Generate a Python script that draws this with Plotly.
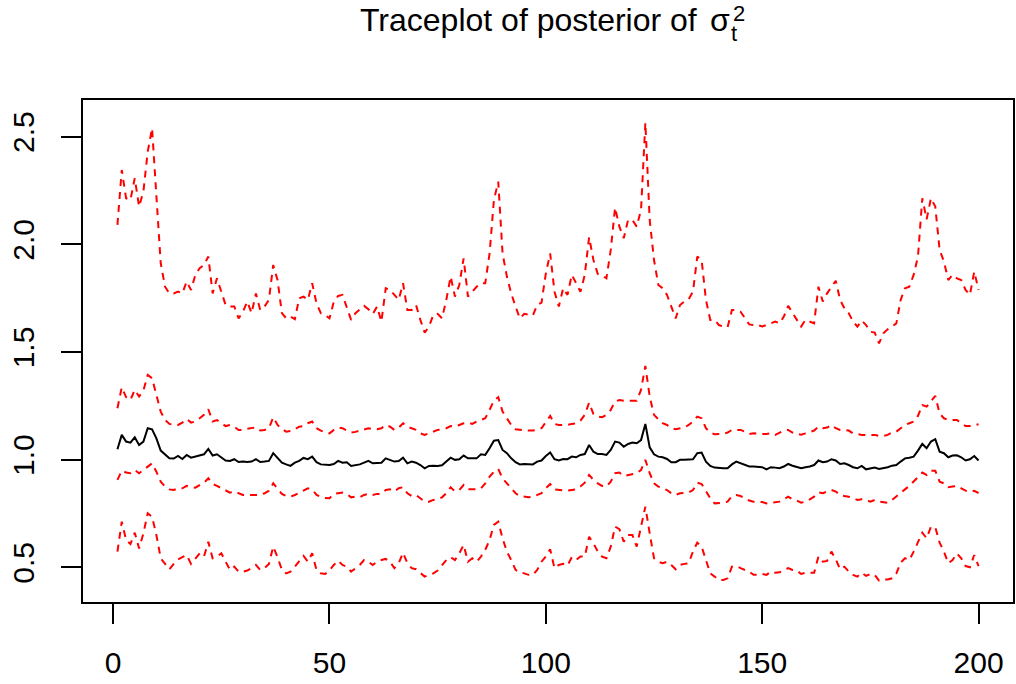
import plotly.graph_objects as go

iterations = list(range(1, 201))

upper_outer = [
2.090,2.345,2.214,2.206,2.307,2.175,2.245,2.430,2.539,2.237,
1.912,1.803,1.772,1.772,1.780,1.772,1.827,1.788,1.858,1.889,
1.904,1.943,1.772,1.842,1.780,1.718,1.711,1.711,1.656,1.687,
1.734,1.680,1.772,1.695,1.711,1.742,1.904,1.834,1.680,1.656,
1.664,1.652,1.749,1.757,1.742,1.819,1.726,1.680,1.672,1.656,
1.734,1.760,1.765,1.711,1.649,1.680,1.695,1.714,1.698,1.677,
1.711,1.641,1.796,1.788,1.765,1.742,1.819,1.695,1.695,1.718,
1.649,1.590,1.618,1.672,1.677,1.656,1.742,1.850,1.757,1.811,
1.935,1.757,1.780,1.803,1.819,1.819,1.958,2.206,2.291,1.958,
1.850,1.772,1.711,1.656,1.677,1.672,1.669,1.718,1.729,1.865,
1.958,1.780,1.711,1.796,1.765,1.858,1.819,1.780,1.858,2.033,
1.927,1.862,1.855,1.842,1.974,2.170,2.082,2.028,2.113,2.113,
2.082,2.160,2.565,2.113,1.927,1.811,1.796,1.765,1.711,1.656,
1.718,1.734,1.745,1.780,1.943,1.927,1.742,1.649,1.649,1.625,
1.618,1.615,1.695,1.695,1.687,1.656,1.628,1.625,1.625,1.618,
1.625,1.633,1.641,1.633,1.664,1.714,1.680,1.646,1.618,1.649,
1.641,1.633,1.803,1.734,1.772,1.803,1.831,1.742,1.703,1.680,
1.641,1.618,1.646,1.625,1.594,1.590,1.540,1.587,1.605,1.618,
1.633,1.742,1.796,1.803,1.858,1.943,2.214,2.116,2.214,2.175,
1.974,1.920,1.834,1.858,1.842,1.834,1.788,1.765,1.873,1.788]

upper_inner = [
1.239,1.336,1.290,1.277,1.324,1.293,1.321,1.393,1.378,1.293,
1.223,1.184,1.166,1.161,1.161,1.172,1.189,1.172,1.177,1.192,
1.208,1.234,1.177,1.184,1.169,1.156,1.161,1.153,1.138,1.138,
1.143,1.146,1.150,1.135,1.138,1.146,1.197,1.161,1.143,1.130,
1.133,1.141,1.153,1.156,1.169,1.177,1.146,1.135,1.126,1.122,
1.138,1.149,1.146,1.135,1.126,1.129,1.135,1.143,1.146,1.141,
1.141,1.146,1.161,1.153,1.138,1.149,1.169,1.153,1.146,1.138,
1.122,1.115,1.122,1.130,1.138,1.141,1.146,1.156,1.153,1.161,
1.169,1.172,1.166,1.177,1.184,1.192,1.231,1.274,1.290,1.223,
1.192,1.161,1.141,1.138,1.135,1.135,1.135,1.138,1.146,1.177,
1.203,1.166,1.161,1.161,1.161,1.166,1.169,1.181,1.208,1.265,
1.212,1.200,1.197,1.208,1.231,1.270,1.277,1.274,1.274,1.277,
1.274,1.324,1.435,1.293,1.208,1.187,1.169,1.161,1.146,1.141,
1.146,1.149,1.161,1.177,1.200,1.192,1.146,1.126,1.118,1.118,
1.119,1.126,1.138,1.138,1.138,1.130,1.119,1.122,1.119,1.119,
1.119,1.122,1.115,1.126,1.135,1.138,1.126,1.119,1.116,1.122,
1.130,1.135,1.153,1.146,1.149,1.161,1.146,1.138,1.138,1.135,
1.122,1.118,1.115,1.115,1.115,1.115,1.110,1.110,1.115,1.126,
1.130,1.146,1.161,1.169,1.177,1.203,1.254,1.246,1.274,1.296,
1.215,1.192,1.184,1.184,1.184,1.169,1.156,1.156,1.161,1.164]

median = [
1.048,1.115,1.084,1.079,1.104,1.068,1.084,1.146,1.141,1.099,
1.042,1.025,1.006,1.005,1.017,1.003,1.022,1.009,1.014,1.022,
1.025,1.050,1.019,1.025,1.009,0.996,0.994,1.002,0.989,0.991,
0.989,0.991,1.002,0.989,0.991,0.994,1.030,1.006,0.986,0.978,
0.971,0.986,0.994,1.008,1.002,1.014,0.988,0.978,0.975,0.975,
0.980,0.994,0.986,0.988,0.971,0.974,0.978,0.986,0.994,0.983,
0.986,0.986,1.006,0.999,0.991,0.994,1.009,0.983,0.991,0.986,
0.975,0.960,0.971,0.972,0.971,0.974,0.991,1.009,0.999,1.002,
1.019,1.006,1.006,1.006,1.025,1.022,1.053,1.088,1.091,1.045,
1.030,1.006,0.988,0.978,0.980,0.980,0.978,0.991,0.996,1.017,
1.033,1.002,0.996,1.003,1.002,1.014,1.011,1.022,1.026,1.068,
1.037,1.026,1.026,1.022,1.045,1.084,1.079,1.060,1.073,1.079,
1.076,1.091,1.166,1.057,1.025,1.014,1.011,1.003,0.988,0.988,
0.999,0.999,0.999,1.002,1.030,1.033,0.991,0.971,0.963,0.960,
0.960,0.960,0.978,0.991,0.983,0.975,0.968,0.968,0.968,0.965,
0.955,0.965,0.963,0.960,0.968,0.980,0.972,0.965,0.960,0.965,
0.968,0.975,0.996,0.988,0.991,1.002,0.996,0.980,0.983,0.975,
0.965,0.960,0.971,0.955,0.960,0.963,0.957,0.960,0.965,0.972,
0.975,0.991,1.006,1.009,1.014,1.042,1.073,1.053,1.084,1.095,
1.037,1.030,1.011,1.019,1.020,1.011,0.996,1.002,1.017,0.996]

lower_inner = [
0.906,0.949,0.940,0.937,0.952,0.937,0.952,0.968,0.983,0.944,
0.898,0.875,0.862,0.859,0.867,0.867,0.878,0.872,0.870,0.882,
0.893,0.913,0.887,0.878,0.867,0.856,0.847,0.852,0.844,0.836,
0.836,0.836,0.836,0.836,0.844,0.856,0.890,0.867,0.841,0.831,
0.828,0.836,0.847,0.856,0.867,0.862,0.836,0.828,0.822,0.821,
0.841,0.844,0.847,0.841,0.825,0.828,0.825,0.836,0.841,0.836,
0.841,0.841,0.859,0.862,0.852,0.867,0.872,0.844,0.831,0.836,
0.821,0.805,0.805,0.813,0.816,0.825,0.844,0.872,0.852,0.859,
0.882,0.862,0.862,0.862,0.867,0.890,0.921,0.944,0.957,0.913,
0.890,0.867,0.844,0.831,0.828,0.825,0.828,0.836,0.844,0.867,
0.887,0.862,0.859,0.856,0.856,0.859,0.862,0.875,0.893,0.929,
0.906,0.890,0.878,0.875,0.898,0.937,0.940,0.924,0.929,0.934,
0.937,0.952,0.999,0.937,0.890,0.875,0.867,0.859,0.844,0.836,
0.844,0.844,0.847,0.859,0.893,0.887,0.852,0.821,0.797,0.797,
0.800,0.805,0.831,0.836,0.831,0.821,0.810,0.805,0.805,0.803,
0.797,0.800,0.800,0.805,0.816,0.828,0.816,0.810,0.800,0.805,
0.816,0.828,0.848,0.844,0.852,0.859,0.852,0.836,0.831,0.828,
0.821,0.813,0.816,0.813,0.805,0.813,0.805,0.802,0.800,0.813,
0.828,0.844,0.862,0.878,0.898,0.921,0.940,0.929,0.949,0.949,
0.898,0.890,0.872,0.875,0.878,0.867,0.856,0.852,0.855,0.844]

lower_outer = [
0.573,0.712,0.627,0.608,0.661,0.588,0.658,0.751,0.735,0.650,
0.542,0.519,0.491,0.516,0.537,0.547,0.557,0.516,0.542,0.565,
0.550,0.619,0.542,0.550,0.565,0.526,0.488,0.503,0.480,0.480,
0.485,0.496,0.511,0.488,0.496,0.516,0.596,0.547,0.488,0.472,
0.480,0.503,0.526,0.553,0.526,0.565,0.488,0.472,0.469,0.485,
0.511,0.531,0.511,0.503,0.480,0.496,0.511,0.534,0.526,0.511,
0.526,0.534,0.539,0.526,0.496,0.519,0.568,0.519,0.496,0.491,
0.472,0.457,0.465,0.472,0.485,0.511,0.534,0.547,0.534,0.565,
0.604,0.526,0.542,0.526,0.550,0.581,0.627,0.697,0.712,0.635,
0.573,0.534,0.488,0.475,0.472,0.465,0.465,0.488,0.526,0.550,
0.584,0.496,0.511,0.516,0.508,0.547,0.534,0.550,0.550,0.642,
0.611,0.573,0.550,0.542,0.596,0.689,0.677,0.619,0.650,0.650,
0.596,0.689,0.782,0.658,0.542,0.526,0.519,0.526,0.511,0.491,
0.511,0.516,0.519,0.573,0.615,0.596,0.534,0.472,0.457,0.441,
0.441,0.449,0.503,0.506,0.496,0.488,0.480,0.465,0.465,0.469,
0.465,0.480,0.475,0.477,0.488,0.496,0.488,0.485,0.469,0.475,
0.475,0.475,0.550,0.526,0.530,0.573,0.537,0.491,0.503,0.480,
0.465,0.457,0.475,0.460,0.469,0.465,0.438,0.444,0.444,0.449,
0.472,0.522,0.542,0.534,0.573,0.619,0.661,0.635,0.689,0.686,
0.615,0.573,0.519,0.534,0.565,0.542,0.506,0.500,0.557,0.506]

x_ticks = [0, 50, 100, 150, 200]
y_ticks = [0.5, 1.0, 1.5, 2.0, 2.5]
y_tick_labels = ["0.5", "1.0", "1.5", "2.0", "2.5"]

FONT = "Liberation Sans, Arial, Helvetica, sans-serif"
RED_DASH = dict(color="#FF0000", width=2, dash="7px,6px")

fig = go.Figure()
for series in [upper_outer, upper_inner, lower_inner, lower_outer]:
    fig.add_trace(go.Scatter(x=iterations, y=series, mode="lines",
                             line=RED_DASH, showlegend=False, hoverinfo="skip"))
fig.add_trace(go.Scatter(x=iterations, y=median, mode="lines",
                         line=dict(color="black", width=2), showlegend=False,
                         hoverinfo="skip"))

axis_common = dict(showgrid=False, zeroline=False, showline=True, mirror=True,
                   linecolor="black", linewidth=2, ticks="outside", ticklen=20,
                   tickwidth=1.6, tickcolor="black",
                   tickfont=dict(family=FONT, size=30, color="black"))

fig.update_xaxes(range=[-6.96, 207.96], tickvals=x_ticks, ticklabelstandoff=13,
                 **axis_common)
fig.update_yaxes(range=[0.339, 2.670], tickvals=y_ticks, ticktext=y_tick_labels,
                 tickangle=-90, ticklabelstandoff=15, **axis_common)

fig.update_layout(
    width=1016, height=684,
    margin=dict(l=83, r=1, t=100, b=82, pad=0),
    paper_bgcolor="white", plot_bgcolor="white",
    font=dict(family=FONT, color="black"),
    annotations=[
        dict(text="Traceplot of posterior of", x=0.2961, y=1.1598,
             xref="paper", yref="paper", xanchor="left", yanchor="middle",
             showarrow=False, font=dict(family=FONT, size=32, color="black")),
        dict(text="σ", x=0.6717, y=1.1598,
             xref="paper", yref="paper", xanchor="left", yanchor="middle",
             showarrow=False, font=dict(family=FONT, size=32, color="black")),
        dict(text="2", x=0.6964, y=1.1733, xref="paper", yref="paper",
             xanchor="left", yanchor="middle", showarrow=False,
             font=dict(family=FONT, size=22, color="black")),
        dict(text="t", x=0.6942, y=1.1315, xref="paper", yref="paper",
             xanchor="left", yanchor="middle", showarrow=False,
             font=dict(family=FONT, size=22, color="black")),
    ],
)

fig.write_html("out.html", config={"displayModeBar": False},
               post_script="document.body.style.margin='0px';")
